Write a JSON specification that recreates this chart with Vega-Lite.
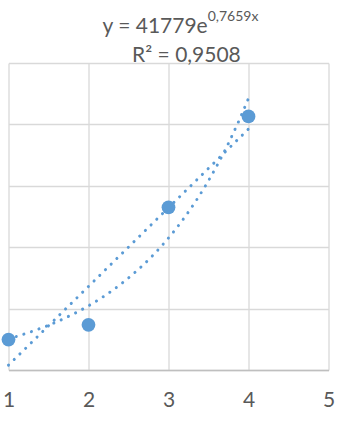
{
  "$schema": "https://vega.github.io/schema/vega-lite/v6.json",
  "width": 320,
  "height": 307,
  "autosize": {"type": "none"},
  "padding": {"left": 8.5, "top": 63, "right": 9.5, "bottom": 60},
  "background": "white",
  "config": {"view": {"stroke": null}, "font": "Lato"},
  "datasets": {
    "pts": [
      {"x": 1, "y": 99000},
      {"x": 2, "y": 147000},
      {"x": 3, "y": 530000},
      {"x": 4, "y": 826000}
    ]
  },
  "layer": [
    {
      "data": {"name": "pts"},
      "transform": [{"regression": "y", "on": "x", "method": "linear"}],
      "mark": {"type": "line", "color": "#5B9BD5", "strokeWidth": 3, "strokeDash": [0.1, 7.9], "strokeCap": "round"},
      "encoding": {
        "x": {
          "field": "x", "type": "quantitative",
          "scale": {"domain": [1, 5], "nice": false, "zero": false},
          "axis": {
            "values": [1, 2, 3, 4, 5], "title": null, "grid": true, "gridColor": "#D9D9D9", "gridWidth": 1.3,
            "domainColor": "#BFBFBF", "domainWidth": 1.5, "ticks": false, "tickSize": 0,
            "labelFont": "Lato", "labelFontSize": 21, "labelColor": "#595959", "labelPadding": 19,
            "labelFlush": false, "labelOverlap": false, "format": "d"
          }
        },
        "y": {
          "field": "y", "type": "quantitative",
          "scale": {"domain": [0, 1000000], "nice": false},
          "axis": {
            "values": [0, 200000, 400000, 600000, 800000, 1000000], "labels": false, "ticks": false,
            "domain": false, "grid": true, "gridColor": "#D9D9D9", "gridWidth": 1.3, "title": null
          }
        }
      }
    },
    {
      "data": {"name": "pts"},
      "transform": [{"regression": "y", "on": "x", "method": "exp"}],
      "mark": {"type": "line", "color": "#5B9BD5", "strokeWidth": 3, "strokeDash": [0.1, 7.9], "strokeCap": "round"},
      "encoding": {
        "x": {"field": "x", "type": "quantitative"},
        "y": {"field": "y", "type": "quantitative"}
      }
    },
    {
      "data": {"name": "pts"},
      "mark": {"type": "circle", "size": 190, "opacity": 1, "color": "#5B9BD5"},
      "encoding": {
        "x": {"field": "x", "type": "quantitative"},
        "y": {"field": "y", "type": "quantitative"}
      }
    },
    {
      "data": {"values": [{"t": "y = 41779e"}]},
      "mark": {"type": "text", "font": "Lato", "fontSize": 21, "color": "#595959", "align": "right", "baseline": "alphabetic"},
      "encoding": {
        "text": {"field": "t"},
        "x": {"datum": 3.49},
        "y": {"datum": 1097700}
      }
    },
    {
      "data": {"values": [{"t": "0,7659x"}]},
      "mark": {"type": "text", "font": "Lato", "fontSize": 14, "color": "#595959", "align": "left", "baseline": "alphabetic"},
      "encoding": {
        "text": {"field": "t"},
        "x": {"datum": 3.49},
        "y": {"datum": 1137000}
      }
    },
    {
      "data": {"values": [{"t": "R² = 0,9508"}]},
      "mark": {"type": "text", "font": "Lato", "fontSize": 21, "color": "#595959", "align": "center", "baseline": "alphabetic"},
      "encoding": {
        "text": {"field": "t"},
        "x": {"datum": 3.224},
        "y": {"datum": 1004235}
      }
    }
  ]
}
